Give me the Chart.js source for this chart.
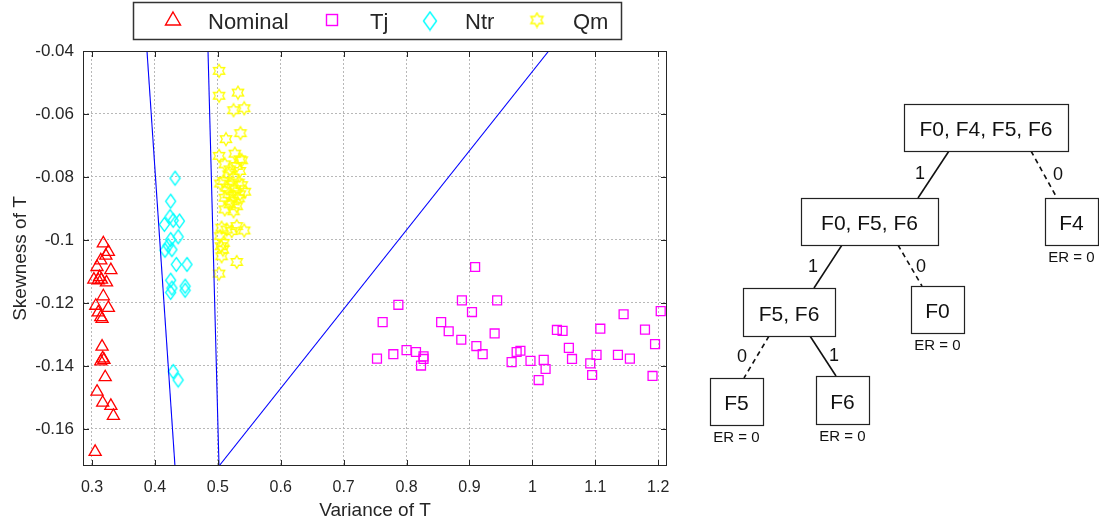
<!DOCTYPE html>
<html lang="en">
<head>
  <meta charset="UTF-8">
  <title>Variance vs Skewness of T</title>
  <script src="https://cdn.jsdelivr.net/npm/chart.js"></script>
  <style>
    body { margin: 0; background: #fff; font-family: "Liberation Sans", Arial, sans-serif; }
    #wrap { position: relative; width: 1099px; height: 524px; }
    #plot { position: absolute; left: 0; top: 0; }
    #tree { position: absolute; left: 0; top: 0; }
  </style>
</head>
<body>
<div id="wrap">
  <canvas id="plot" width="690" height="524"></canvas>
  <svg id="tree" width="1099" height="524"></svg>
</div>

<script>
// --- scatter data ---
const nominalX = [0.318, 0.326, 0.314, 0.322, 0.308, 0.330, 0.303, 0.310, 0.315, 0.323, 0.312, 0.318, 0.306, 0.326, 0.310, 0.314, 0.316, 0.316, 0.317, 0.314, 0.319, 0.321, 0.308, 0.317, 0.330, 0.334, 0.305];
const nominalY = [-0.1011, -0.1038, -0.1065, -0.1050, -0.1086, -0.1096, -0.1126, -0.1128, -0.1126, -0.1135, -0.1118, -0.1179, -0.1209, -0.1216, -0.1230, -0.1245, -0.1251, -0.1339, -0.1376, -0.1386, -0.1381, -0.1436, -0.1482, -0.1517, -0.1527, -0.1559, -0.1673];

const tjX = [0.909, 0.787, 0.888, 0.944, 0.904, 0.762, 0.855, 0.867, 0.940, 0.887, 0.911, 0.921, 0.779, 0.800, 0.815, 0.827, 0.827, 0.823, 0.753, 0.967, 0.975, 0.981, 0.997, 1.018, 1.021, 1.010, 1.039, 1.048, 1.058, 1.063, 1.092, 1.095, 1.102, 1.108, 1.136, 1.155, 1.145, 1.179, 1.195, 1.191, 1.204];
const tjY = [-0.1086, -0.1206, -0.1192, -0.1192, -0.1229, -0.1261, -0.1261, -0.1290, -0.1297, -0.1317, -0.1337, -0.1363, -0.1363, -0.1350, -0.1356, -0.1370, -0.1378, -0.1399, -0.1377, -0.1388, -0.1356, -0.1352, -0.1384, -0.1381, -0.1410, -0.1445, -0.1286, -0.1289, -0.1343, -0.1378, -0.1392, -0.1429, -0.1365, -0.1282, -0.1365, -0.1377, -0.1236, -0.1285, -0.1331, -0.1432, -0.1226];

const ntrX = [0.432, 0.425, 0.424, 0.415, 0.429, 0.439, 0.437, 0.425, 0.421, 0.416, 0.427, 0.434, 0.451, 0.425, 0.427, 0.425, 0.448, 0.448, 0.429, 0.437];
const ntrY = [-0.0804, -0.0877, -0.0926, -0.0951, -0.0938, -0.0940, -0.0990, -0.0999, -0.1018, -0.1033, -0.1031, -0.1078, -0.1078, -0.1128, -0.1153, -0.1167, -0.1147, -0.1160, -0.1418, -0.1445];

const qmX = [0.502, 0.532, 0.502, 0.525, 0.542, 0.536, 0.513, 0.502, 0.527, 0.535, 0.511, 0.519, 0.530, 0.538, 0.517, 0.525, 0.535, 0.509, 0.522, 0.533, 0.504, 0.514, 0.527, 0.538, 0.517, 0.525, 0.535, 0.543, 0.511, 0.522, 0.533, 0.519, 0.530, 0.511, 0.525, 0.506, 0.530, 0.542, 0.514, 0.522, 0.504, 0.509, 0.505, 0.508, 0.506, 0.530, 0.502];
const qmY = [-0.0463, -0.0532, -0.0542, -0.0588, -0.0582, -0.0661, -0.0680, -0.0733, -0.0726, -0.0744, -0.0760, -0.0776, -0.0765, -0.0747, -0.0792, -0.0802, -0.0781, -0.0813, -0.0824, -0.0818, -0.0821, -0.0834, -0.0839, -0.0826, -0.0855, -0.0861, -0.0855, -0.0847, -0.0866, -0.0877, -0.0868, -0.0887, -0.0893, -0.0903, -0.0909, -0.0961, -0.0956, -0.0970, -0.0967, -0.0972, -0.0988, -0.1009, -0.1020, -0.1031, -0.1052, -0.1070, -0.1107];

// decision boundaries (end points)
const line1X = [0.3874, 0.4319];
const line1Y = [-0.04, -0.1718];
const line2X = [0.4844, 0.5019];
const line2Y = [-0.04, -0.1718];
const line3X = [0.5019, 1.026];
const line3Y = [-0.1718, -0.04];

const seriesNames = ['Nominal', 'Tj', 'Ntr', 'Qm'];

const xTickVals = [0.3, 0.4, 0.5, 0.6, 0.7, 0.8, 0.9, 1.0, 1.1, 1.2];
const xTickLabels = ['0.3', '0.4', '0.5', '0.6', '0.7', '0.8', '0.9', '1', '1.1', '1.2'];
const yTickVals = [-0.16, -0.14, -0.12, -0.1, -0.08, -0.06, -0.04];
const yTickLabels = ['-0.16', '-0.14', '-0.12', '-0.1', '-0.08', '-0.06', '-0.04'];

// --- tree data ---
const treeLabels = ['F0, F4, F5, F6', 'F0, F5, F6', 'F4', 'F5, F6', 'F0', 'F5', 'F6'];
const treeBoxes = [[904, 104, 164, 47], [801, 198, 137, 47], [1045, 198, 53, 47], [743, 288, 92, 48], [911, 286, 53, 47], [710, 378, 53, 47], [816, 376, 53, 48]];
const treeLeaf = [false, false, true, false, true, true, true];
const edgeLabels = ['1', '0', '1', '0', '0', '1'];
const edgeLines = [[949, 151, 918, 198], [1031, 151, 1057, 198], [842, 245, 814, 288], [898, 245, 922, 286], [769, 336, 744, 378], [810, 336, 836, 376]];
const edgeDashed = [false, true, false, true, true, false];
const edgeLabelPos = [[920, 173], [1058, 174], [813, 266], [921, 266], [742, 356], [834, 355]];

const zip = (xs, ys) => xs.map((x, i) => ({ x: x, y: ys[i] }));

// custom marker images
function makeStar(color, r1, lw) {
  const s = Math.ceil(r1 * 2 + 3);
  const c = document.createElement('canvas');
  c.width = s; c.height = s;
  const g = c.getContext('2d');
  g.strokeStyle = color; g.lineWidth = lw;
  g.beginPath();
  for (let k = 0; k < 12; k++) {
    const r = k % 2 === 0 ? r1 : r1 * 0.577;
    const a = -Math.PI / 2 + k * Math.PI / 6;
    const px = s / 2 + r * Math.cos(a), py = s / 2 + r * Math.sin(a);
    if (k === 0) g.moveTo(px, py); else g.lineTo(px, py);
  }
  g.closePath(); g.stroke();
  return c;
}
function makeDiamond(color, hw, hh, lw) {
  const w = Math.ceil(hw * 2 + 3), h = Math.ceil(hh * 2 + 3);
  const c = document.createElement('canvas');
  c.width = w; c.height = h;
  const g = c.getContext('2d');
  g.strokeStyle = color; g.lineWidth = lw;
  g.beginPath();
  g.moveTo(w / 2, h / 2 - hh); g.lineTo(w / 2 + hw, h / 2); g.lineTo(w / 2, h / 2 + hh); g.lineTo(w / 2 - hw, h / 2);
  g.closePath(); g.stroke();
  return c;
}
const starImg = makeStar('#ffff00', 6.5, 1.3);
const diamondImg = makeDiamond('#00ffff', 5, 7, 1.3);
const starLeg = makeStar('#ffff00', 7, 1.4);
const diamondLeg = makeDiamond('#00ffff', 6.5, 9, 1.4);

const FONT = '"Liberation Sans", Arial, sans-serif';
const TXT = '#262626';

// box, inward ticks and legend
const frame = {
  id: 'frame',
  afterDraw(chart) {
    const { ctx, chartArea: a, scales } = chart;
    ctx.save();
    ctx.strokeStyle = TXT; ctx.lineWidth = 1;
    ctx.strokeRect(a.left + 0.5, a.top + 0.5, a.right - a.left - 1, a.bottom - a.top - 1);
    ctx.beginPath();
    xTickVals.forEach(v => {
      const px = Math.round(scales.x.getPixelForValue(v)) + 0.5;
      ctx.moveTo(px, a.bottom); ctx.lineTo(px, a.bottom - 6);
      ctx.moveTo(px, a.top); ctx.lineTo(px, a.top + 6);
    });
    yTickVals.forEach(v => {
      const py = Math.round(scales.y.getPixelForValue(v)) + 0.5;
      ctx.moveTo(a.left, py); ctx.lineTo(a.left + 6, py);
      ctx.moveTo(a.right, py); ctx.lineTo(a.right - 6, py);
    });
    ctx.stroke();

    // legend
    ctx.fillStyle = '#fff';
    ctx.fillRect(133, 2, 489, 38);
    ctx.strokeStyle = '#333'; ctx.lineWidth = 1.5;
    ctx.strokeRect(133.5, 2.5, 488, 37);
    const mx = [173, 332, 430, 537];
    const tx = [208, 370, 465, 573];
    const my = 20;
    ctx.lineWidth = 1.4;
    ctx.strokeStyle = '#ff0000';
    ctx.beginPath();
    ctx.moveTo(mx[0], my - 8); ctx.lineTo(mx[0] + 7.5, my + 5); ctx.lineTo(mx[0] - 7.5, my + 5); ctx.closePath();
    ctx.stroke();
    ctx.strokeStyle = '#ff00ff';
    ctx.strokeRect(mx[1] - 5.5, my - 5.5, 11, 11);
    ctx.drawImage(diamondLeg, mx[2] - diamondLeg.width / 2, my + 1 - diamondLeg.height / 2);
    ctx.drawImage(starLeg, mx[3] - starLeg.width / 2, my - starLeg.height / 2);
    ctx.fillStyle = TXT;
    ctx.font = '22px ' + FONT;
    ctx.textBaseline = 'middle';
    seriesNames.forEach((n, i) => ctx.fillText(n, tx[i], 23));
    ctx.restore();
  }
};

const scatterDs = (label, data, style, color, radius) => ({
  type: 'scatter', label: label, data: data,
  pointStyle: style, pointRadius: radius, pointHoverRadius: radius,
  borderColor: color, backgroundColor: 'rgba(0,0,0,0)', borderWidth: 1.3
});
const lineDs = (data) => ({
  type: 'line', data: data, borderColor: '#0000ff', borderWidth: 1.1,
  pointRadius: 0, fill: false, tension: 0
});

new Chart(document.getElementById('plot').getContext('2d'), {
  data: {
    datasets: [
      lineDs(zip(line1X, line1Y)),
      lineDs(zip(line2X, line2Y)),
      lineDs(zip(line3X, line3Y)),
      scatterDs(seriesNames[0], zip(nominalX, nominalY), 'triangle', '#ff0000', 7),
      scatterDs(seriesNames[1], zip(tjX, tjY), 'rect', '#ff00ff', 6.3),
      scatterDs(seriesNames[2], zip(ntrX, ntrY), diamondImg, '#00ffff', 7),
      scatterDs(seriesNames[3], zip(qmX, qmY), starImg, '#ffff00', 7)
    ]
  },
  options: {
    responsive: false,
    animation: false,
    layout: { padding: { top: 51, right: 23, left: 0, bottom: 0 } },
    plugins: { legend: { display: false }, tooltip: { enabled: false } },
    scales: {
      x: {
        type: 'linear', min: 0.2857, max: 1.214,
        afterBuildTicks: axis => { axis.ticks = xTickVals.map(v => ({ value: v })); },
        afterFit: axis => { axis.height = 58; },
        ticks: {
          autoSkip: false, maxRotation: 0, padding: 12, color: TXT,
          font: { family: FONT, size: 16 },
          callback: (v, i) => xTickLabels[i]
        },
        grid: { color: '#b8b8b8', lineWidth: 1, drawTicks: false },
        border: { display: false, dash: [2, 2] },
        title: { display: true, text: 'Variance of T', color: TXT, font: { family: FONT, size: 19 }, padding: { top: 0, bottom: 2 } }
      },
      y: {
        type: 'linear', min: -0.1718, max: -0.04,
        afterBuildTicks: axis => { axis.ticks = yTickVals.map(v => ({ value: v })); },
        afterFit: axis => { axis.width = 83; },
        ticks: {
          autoSkip: false, padding: 9, color: TXT,
          font: { family: FONT, size: 17 },
          callback: (v, i) => yTickLabels[i]
        },
        grid: { color: '#b8b8b8', lineWidth: 1, drawTicks: false },
        border: { display: false, dash: [2, 2] },
        title: { display: true, text: 'Skewness of T', color: TXT, font: { family: FONT, size: 19 }, padding: { top: 9, bottom: 0 } }
      }
    }
  },
  plugins: [frame]
});

// --- decision tree ---
const NS = 'http://www.w3.org/2000/svg';
const svg = document.getElementById('tree');
function el(name, attrs, text) {
  const e = document.createElementNS(NS, name);
  for (const k in attrs) e.setAttribute(k, attrs[k]);
  if (text !== undefined) e.textContent = text;
  svg.appendChild(e);
  return e;
}
edgeLines.forEach((l, i) => {
  el('line', { x1: l[0], y1: l[1], x2: l[2], y2: l[3], stroke: '#111', 'stroke-width': 1.6,
    'stroke-dasharray': edgeDashed[i] ? '5,4' : 'none' });
  el('text', { x: edgeLabelPos[i][0], y: edgeLabelPos[i][1], 'text-anchor': 'middle', 'dominant-baseline': 'central',
    'font-family': FONT, 'font-size': 18, fill: '#111' }, edgeLabels[i]);
});
treeBoxes.forEach((b, i) => {
  el('rect', { x: b[0] + 0.5, y: b[1] + 0.5, width: b[2], height: b[3], fill: '#fff', stroke: '#222', 'stroke-width': 1.2 });
  el('text', { x: b[0] + b[2] / 2, y: b[1] + b[3] / 2 + 1, 'text-anchor': 'middle', 'dominant-baseline': 'central',
    'font-family': FONT, 'font-size': 21, fill: '#111' }, treeLabels[i]);
  if (treeLeaf[i]) {
    el('text', { x: b[0] + b[2] / 2, y: b[1] + b[3] + 11, 'text-anchor': 'middle', 'dominant-baseline': 'central',
      'font-family': FONT, 'font-size': 15, fill: '#111' }, 'ER = 0');
  }
});
</script>
</body>
</html>
